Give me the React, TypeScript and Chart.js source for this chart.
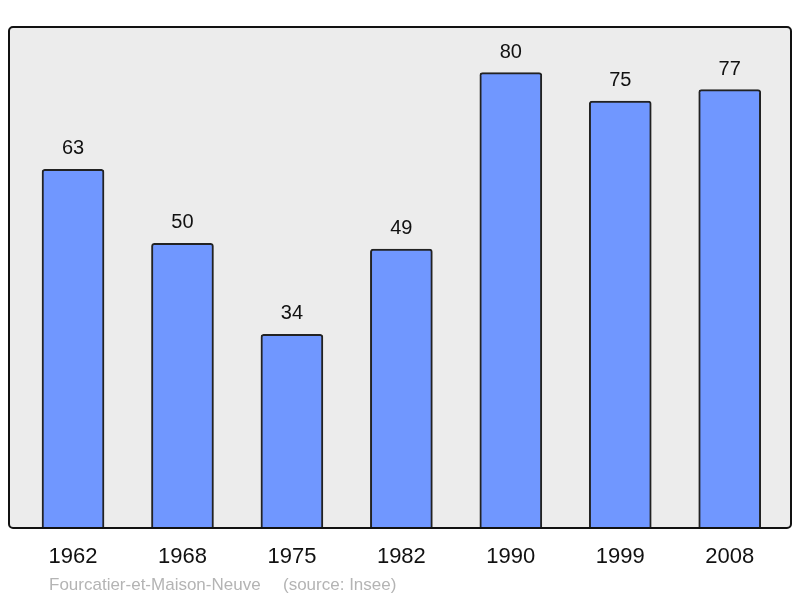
import React, { useEffect, useRef } from "react";
import { Chart, registerables } from "chart.js";

Chart.register(...registerables);

const years = ["1962", "1968", "1975", "1982", "1990", "1999", "2008"];
const population = [63, 50, 34, 49, 80, 75, 77];
const communeName = "Fourcatier-et-Maison-Neuve";
const sourceText = "(source: Insee)";

const FONT = "'Liberation Sans', Arial, sans-serif";

const plotFrame = {
  id: "plotFrame",
  beforeDatasetsDraw(chart: any) {
    const { ctx, chartArea: a } = chart;
    ctx.save();
    ctx.beginPath();
    ctx.roundRect(a.left, a.top, a.right - a.left, a.bottom - a.top, 4);
    ctx.fillStyle = "#ececec";
    ctx.fill();
    ctx.restore();
  },
  afterDatasetsDraw(chart: any) {
    const { ctx, chartArea: a } = chart;
    ctx.save();
    const meta = chart.getDatasetMeta(0);
    ctx.font = `20px ${FONT}`;
    ctx.fillStyle = "#111";
    ctx.textAlign = "center";
    ctx.textBaseline = "alphabetic";
    meta.data.forEach((bar: any, i: number) => {
      ctx.fillText(String(population[i]), bar.x, bar.y - 15);
    });
    ctx.beginPath();
    ctx.roundRect(a.left, a.top, a.right - a.left, a.bottom - a.top, 4);
    ctx.lineWidth = 2;
    ctx.strokeStyle = "#111";
    ctx.stroke();
    ctx.font = `17px ${FONT}`;
    ctx.fillStyle = "#b4b4b4";
    ctx.textAlign = "left";
    ctx.fillText(communeName, 49, 590);
    ctx.fillText(sourceText, 283, 590);
    ctx.restore();
  },
};

export default function App() {
  const ref = useRef<HTMLCanvasElement>(null);
  useEffect(() => {
    document.body.style.margin = "0";
    const chart = new Chart(ref.current!, {
      type: "bar",
      data: {
        datasets: [
          {
            data: population.map((v, i) => ({ x: i, y: v })),
            backgroundColor: "#7097ff",
            borderColor: "#222",
            borderWidth: 2,
            borderRadius: 3,
            barThickness: 62,
          },
        ],
      },
      options: {
        animation: false,
        responsive: false,
        maintainAspectRatio: false,
        layout: { padding: { left: 9, right: 9, top: 27, bottom: 0 } },
        plugins: { legend: { display: false }, tooltip: { enabled: false } },
        scales: {
          x: {
            type: "linear",
            offset: false,
            min: -0.585,
            max: 6.56,
            grid: { display: false, drawTicks: false, offset: false },
            border: { display: false },
            afterBuildTicks: (scale: any) => {
              scale.ticks = years.map((_, i) => ({ value: i }));
            },
            afterFit: (scale: any) => {
              scale.height = 70;
            },
            ticks: {
              padding: 16,
              color: "#111",
              font: { size: 22, family: FONT },
              maxRotation: 0,
              autoSkip: false,
              callback: (v: any) => years[Math.round(Number(v))] ?? "",
            },
          },
          y: {
            display: false,
            min: 0,
            max: 88,
          },
        },
      },
      plugins: [plotFrame],
    });
    return () => chart.destroy();
  }, []);
  return (
    <div style={{ width: 800, height: 598 }}>
      <canvas ref={ref} width={800} height={598} />
    </div>
  );
}
